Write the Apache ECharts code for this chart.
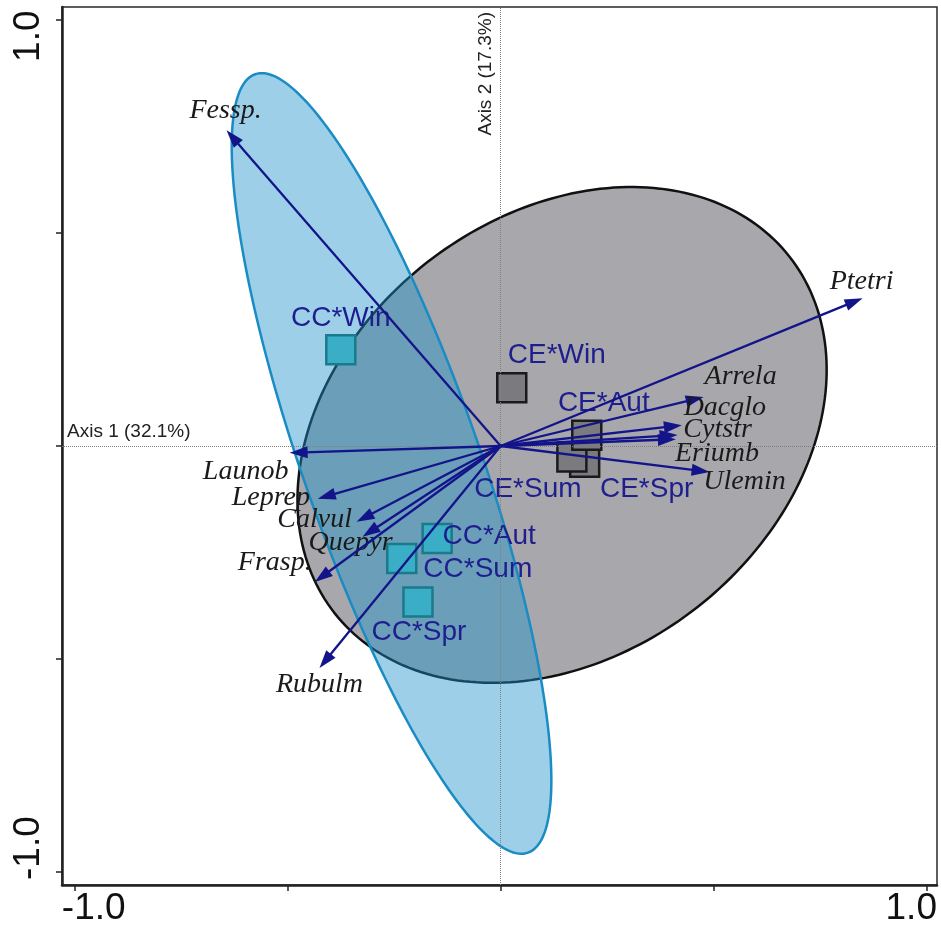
<!DOCTYPE html>
<html>
<head>
<meta charset="utf-8">
<title>Ordination biplot</title>
<script src="https://cdn.jsdelivr.net/npm/echarts@6/dist/echarts.min.js"></script>
<style>
  html, body { margin: 0; padding: 0; background: #ffffff; }
  #chart { width: 941px; height: 938px; }
</style>
</head>
<body>
<div id="chart"></div>
<script>
// Sample scores on axis 1 / axis 2, one square per stand type and season
const ccSamples = ['CC*Win', 'CC*Aut', 'CC*Sum', 'CC*Spr'];
const ccAxis1 = [-0.375, -0.149, -0.232, -0.194];
const ccAxis2 = [0.226, -0.217, -0.264, -0.366];

const ceSamples = ['CE*Win', 'CE*Spr', 'CE*Sum', 'CE*Aut'];
const ceAxis1 = [0.026, 0.197, 0.167, 0.202];
const ceAxis2 = [0.137, -0.038, -0.026, 0.025];

// Species vectors (arrow tips), drawn from the origin
const species = ['Fessp.', 'Ptetri', 'Arrela', 'Dacglo', 'Cytstr', 'Eriumb', 'Ulemin',
                 'Launob', 'Leprep', 'Calvul', 'Quepyr', 'Frasp.', 'Rubulm'];
const speciesAxis1 = [-0.643, 0.849, 0.476, 0.425, 0.415, 0.411, 0.490,
                      -0.495, -0.429, -0.338, -0.324, -0.436, -0.425];
const speciesAxis2 = [0.741, 0.347, 0.115, 0.049, 0.026, 0.016, -0.061,
                      -0.016, -0.124, -0.178, -0.213, -0.319, -0.521];

// Group ellipses: centre, semi-axes and tilt of the major axis (degrees)
const ellipseGroups = ['CE', 'CC'];
const ellipseCenterX = [0.144, -0.256];
const ellipseCenterY = [0.026, -0.041];
const ellipseSemiMajor = [0.678, 0.968];
const ellipseSemiMinor = [0.514, 0.207];
const ellipseAngle = [38.1, 109.3];

// Axis ticks and labels
const axisTickValues = [-1, -0.5, 0, 0.5, 1];
const axisLabelValues = [-1, 1];
const axis1Title = 'Axis 1 (32.1%)';
const axis2Title = 'Axis 2 (17.3%)';

// ---- presentation ----
const ellipseStyle = {
  CE: { fill: '#a8a8ac', stroke: '#111111', lineWidth: 2.5 },
  CC: { fill: 'rgba(27,146,201,0.43)', stroke: '#1a8cc4', lineWidth: 2.5 }
};

const sampleLabelOffset = {
  'CC*Win': [0, -31], 'CC*Aut': [52, -2], 'CC*Sum': [76, 11], 'CC*Spr': [1, 30],
  'CE*Win': [45, -32], 'CE*Aut': [17, -32], 'CE*Sum': [-44, 32], 'CE*Spr': [62, 27]
};

const speciesLabelOffset = {
  'Fessp.': [-1, -20], 'Ptetri': [-1, -17], 'Arrela': [37, -20], 'Dacglo': [43, -17],
  'Cytstr': [40, -5], 'Eriumb': [41, 14], 'Ulemin': [35, 10], 'Launob': [-44, 19],
  'Leprep': [-47, -1], 'Calvul': [-42, -2], 'Quepyr': [-12, 6], 'Frasp.': [-40, -19],
  'Rubulm': [0, 17]
};

const arrowColor = '#14148a';
const sansFont = '"Liberation Sans", Arial, sans-serif';
const serifFont = '"Liberation Serif", "Times New Roman", serif';

function sampleItems(names, xs, ys) {
  return names.map((n, i) => ({
    name: n,
    value: [xs[i], ys[i]],
    label: { offset: sampleLabelOffset[n] }
  }));
}

function renderEllipse(params, api) {
  const group = ellipseGroups[params.dataIndex];
  const cx = api.value(0), cy = api.value(1);
  const a = api.value(2), b = api.value(3);
  const phi = api.value(4) * Math.PI / 180;
  const pts = [];
  const steps = 240;
  for (let k = 0; k < steps; k++) {
    const t = (k / steps) * 2 * Math.PI;
    const ex = a * Math.cos(t), ey = b * Math.sin(t);
    pts.push(api.coord([
      cx + ex * Math.cos(phi) - ey * Math.sin(phi),
      cy + ex * Math.sin(phi) + ey * Math.cos(phi)
    ]));
  }
  return { type: 'polygon', shape: { points: pts }, style: ellipseStyle[group] };
}

function renderArrow(params, api) {
  const name = species[params.dataIndex];
  const o = api.coord([0, 0]);
  const p = api.coord([api.value(0), api.value(1)]);
  const dx = p[0] - o[0], dy = p[1] - o[1];
  const len = Math.hypot(dx, dy);
  const ux = dx / len, uy = dy / len;
  const headLen = 18, headHalf = 6;
  const bx = p[0] - ux * headLen, by = p[1] - uy * headLen;
  const off = speciesLabelOffset[name];
  return {
    type: 'group',
    children: [
      { type: 'line', shape: { x1: o[0], y1: o[1], x2: bx + ux * 3, y2: by + uy * 3 },
        style: { stroke: arrowColor, lineWidth: 2.3 } },
      { type: 'polygon',
        shape: { points: [[p[0], p[1]], [bx - uy * headHalf, by + ux * headHalf], [bx + uy * headHalf, by - ux * headHalf]] },
        style: { fill: arrowColor } },
      { type: 'text', x: p[0] + off[0], y: p[1] + off[1],
        style: { text: name, fontStyle: 'italic', fontSize: 28, fontFamily: serifFont,
                 fill: '#1a1a1a', align: 'center', verticalAlign: 'middle' } }
    ]
  };
}

const labelRichX = {
  lo: { width: 25, align: 'left', fontSize: 37, fontFamily: sansFont, color: '#111' },
  hi: { width: 20, align: 'right', fontSize: 37, fontFamily: sansFont, color: '#111' }
};
const labelRichY = {
  lo: { width: 16, align: 'left', fontSize: 37, fontFamily: sansFont, color: '#111' },
  hi: { width: 19, align: 'right', fontSize: 37, fontFamily: sansFont, color: '#111' }
};
const endLabel = v => (v < 0 ? '{lo|' : '{hi|') + v.toFixed(1) + '}';

const chart = echarts.init(document.getElementById('chart'), null, { renderer: 'canvas' });

chart.setOption({
  animation: false,
  backgroundColor: '#ffffff',
  grid: {
    left: 62, right: 4, top: 7, bottom: 53,
    containLabel: false, outerBoundsMode: 'none',
    show: true, borderColor: '#2a2a2a', borderWidth: 1.5, backgroundColor: 'transparent'
  },
  xAxis: {
    type: 'value', min: -1.029, max: 1.0235,
    axisLine: { show: true, onZero: false, lineStyle: { color: '#222', width: 2.5 } },
    axisTick: { show: true, customValues: axisTickValues, length: 6, inside: false,
                lineStyle: { color: '#222', width: 1.5 } },
    axisLabel: { show: true, customValues: axisLabelValues, margin: 5,
                 formatter: endLabel, rich: labelRichX },
    splitLine: { show: false }
  },
  yAxis: {
    type: 'value', min: -1.0305, max: 1.0305,
    axisLine: { show: true, onZero: false, lineStyle: { color: '#222', width: 2.5 } },
    axisTick: { show: true, customValues: axisTickValues, length: 6, inside: false,
                lineStyle: { color: '#222', width: 1.5 } },
    axisLabel: { show: true, customValues: axisLabelValues, margin: 15, rotate: 90,
                 formatter: endLabel, rich: labelRichY },
    splitLine: { show: false }
  },
  series: [
    {
      type: 'custom', name: 'ellipses', z: 1, silent: true,
      renderItem: renderEllipse,
      data: ellipseGroups.map((g, i) => [ellipseCenterX[i], ellipseCenterY[i],
        ellipseSemiMajor[i], ellipseSemiMinor[i], ellipseAngle[i]])
    },
    {
      type: 'scatter', name: 'CE', z: 3, silent: true,
      symbol: 'rect', symbolSize: 29,
      itemStyle: { color: '#7b7b7f', borderColor: '#1a1a1a', borderWidth: 2.5, opacity: 1 },
      label: { show: true, position: 'inside', formatter: p => p.name,
               fontFamily: sansFont, fontSize: 28, color: '#1e1e8e' },
      emphasis: { disabled: true },
      data: sampleItems(ceSamples, ceAxis1, ceAxis2)
    },
    {
      type: 'scatter', name: 'CC', z: 3, silent: true,
      symbol: 'rect', symbolSize: 29,
      itemStyle: { color: '#3aaec7', borderColor: '#1b7a8a', borderWidth: 2.5, opacity: 1 },
      label: { show: true, position: 'inside', formatter: p => p.name,
               fontFamily: sansFont, fontSize: 28, color: '#1e1e8e' },
      emphasis: { disabled: true },
      data: sampleItems(ccSamples, ccAxis1, ccAxis2),
      markLine: {
        silent: true, symbol: ['none', 'none'], animation: false,
        lineStyle: { type: 'dotted', color: '#808080', width: 1 },
        label: { fontFamily: sansFont, fontSize: 19, color: '#222' },
        data: [
          { yAxis: 0, label: { position: 'insideStartTop', formatter: axis1Title } },
          { xAxis: 0, label: { position: 'insideEndTop', formatter: axis2Title } }
        ]
      }
    },
    {
      type: 'custom', name: 'species', z: 5, silent: true,
      renderItem: renderArrow,
      data: species.map((s, i) => [speciesAxis1[i], speciesAxis2[i]])
    }
  ]
});
</script>
</body>
</html>
